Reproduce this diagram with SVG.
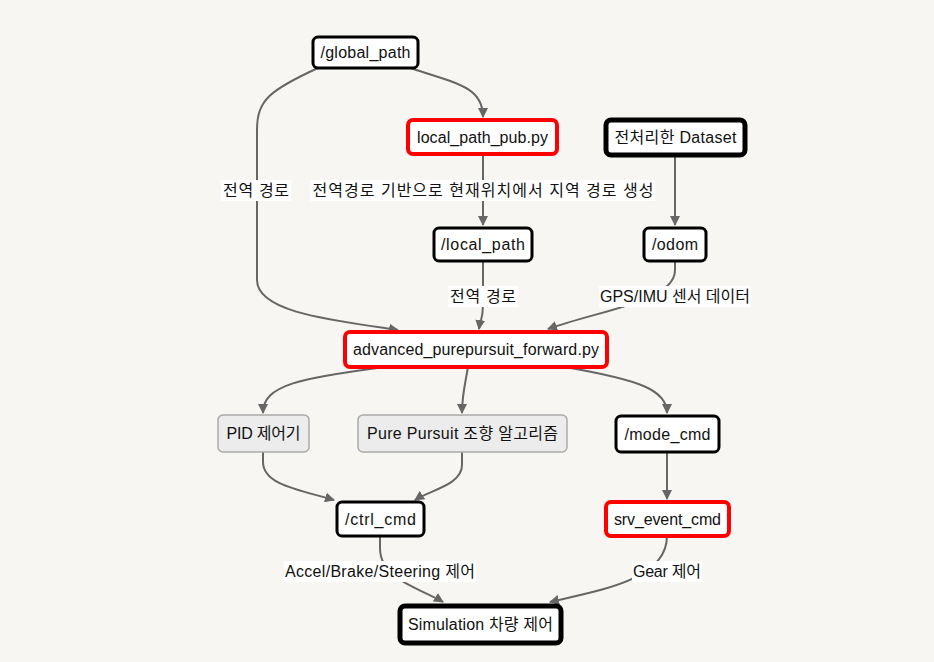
<svg xmlns="http://www.w3.org/2000/svg" width="934" height="662" viewBox="0 0 934 662">
<defs>
<style>
.bg{fill:#f7f6f3}
.n rect{fill:#fff;stroke:#000;stroke-width:3}
.n.red rect{stroke:#f00;stroke-width:4}
.n.thick rect{stroke-width:5}
.n.gray rect{fill:#ececec;stroke:#aaa;stroke-width:1.5}
text{font-family:"Liberation Sans","Noto Sans CJK KR",sans-serif;font-size:16px;fill:#111;text-anchor:middle;dominant-baseline:central}
.e path{fill:none;stroke:#666;stroke-width:2;marker-end:url(#arr)}
.lbl rect{fill:#fff}
</style>
<marker id="arr" viewBox="0 0 10 10" refX="9" refY="5" markerWidth="10" markerHeight="10" markerUnits="userSpaceOnUse" orient="auto">
<path d="M0,0 L10,5 L0,10 z" fill="#666"/>
</marker>
</defs>
<rect class="bg" x="0" y="0" width="934" height="662"/>
<g id="connectors" class="e">
<path d="M410,68 C460,84 483,88 483,117"/>
<path d="M318,68 C270,90 257,100 257,130 L257,280 C257,312 330,320 398,330"/>
<path d="M483,154 L483,225"/>
<path d="M675,156 L675,225"/>
<path d="M483,261 L483,305 C483,318 480,322 479,329"/>
<path d="M675,261 L675,270 C675,302 600,310 548,329"/>
<path d="M385,367 C300,378 263,385 263,413"/>
<path d="M468,367 C465,385 462,395 462,413"/>
<path d="M565,367 C640,380 667,390 667,413"/>
<path d="M263,452 L263,462 C263,485 300,490 334,500"/>
<path d="M462,452 L462,465 C462,485 430,490 415,500"/>
<path d="M667,452 L667,499"/>
<path d="M380,536 L380,548 C380,580 420,588 443,602"/>
<path d="M667,536 C667,580 600,590 550,602"/>
</g>
<g id="labels" class="lbl">
<rect x="221" y="180" width="70" height="21"/><text x="256" y="190" textLength="66">전역 경로</text>
<rect x="310" y="180" width="345" height="21"/><text x="483" y="190" textLength="341">전역경로 기반으로 현재위치에서 지역 경로 생성</text>
<rect x="448" y="286" width="70" height="21"/><text x="483" y="296" textLength="66">전역 경로</text>
<rect x="599" y="286" width="152" height="21"/><text x="675" y="296" textLength="150">GPS/IMU 센서 데이터</text>
<rect x="284" y="561" width="192" height="21"/><text x="380" y="571" textLength="190">Accel/Brake/Steering 제어</text>
<rect x="632" y="561" width="70" height="21"/><text x="667" y="571" textLength="68">Gear 제어</text>
</g>
<g id="global_path" class="n"><rect x="313" y="37" width="105" height="31" rx="5"/><text x="365.5" y="52.5" textLength="90">/global_path</text></g>
<g id="local_path_pub" class="n red"><rect x="408" y="120" width="149" height="34" rx="5"/><text x="482.5" y="137" textLength="131">local_path_pub.py</text></g>
<g id="dataset" class="n thick"><rect x="606" y="120" width="139" height="35" rx="5"/><text x="675.5" y="137.5" textLength="122">전처리한 Dataset</text></g>
<g id="local_path" class="n"><rect x="434" y="228" width="98" height="33" rx="5"/><text x="483" y="244.5" textLength="84">/local_path</text></g>
<g id="odom" class="n"><rect x="644" y="228" width="62" height="33" rx="5"/><text x="675" y="244.5" textLength="46">/odom</text></g>
<g id="advanced" class="n red"><rect x="345" y="332" width="262" height="35" rx="5"/><text x="476" y="349.5" textLength="246">advanced_purepursuit_forward.py</text></g>
<g id="pid" class="n gray"><rect x="218" y="415" width="91" height="37" rx="5"/><text x="263.5" y="433.5" textLength="74">PID 제어기</text></g>
<g id="purepursuit" class="n gray"><rect x="358" y="415" width="209" height="37" rx="5"/><text x="462.5" y="433.5" textLength="191">Pure Pursuit 조향 알고리즘</text></g>
<g id="mode_cmd" class="n"><rect x="616" y="416" width="103" height="36" rx="5"/><text x="667.5" y="434" textLength="86">/mode_cmd</text></g>
<g id="ctrl_cmd" class="n"><rect x="337" y="502" width="87" height="34" rx="5"/><text x="380.5" y="519" textLength="71">/ctrl_cmd</text></g>
<g id="srv_event_cmd" class="n red"><rect x="606" y="502" width="123" height="34" rx="5"/><text x="667.5" y="519" textLength="107">srv_event_cmd</text></g>
<g id="simulation" class="n thick"><rect x="400" y="606" width="161" height="37" rx="5"/><text x="480.5" y="624.5" textLength="145">Simulation 차량 제어</text></g>
</svg>
